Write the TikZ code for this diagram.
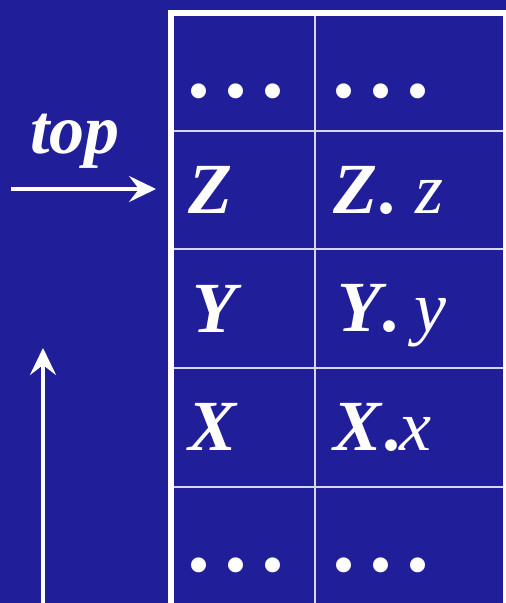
\documentclass[tikz,border=0pt]{standalone}
\usepackage{fontspec}
\setmainfont{Liberation Serif}
\usetikzlibrary{arrows.meta}
\definecolor{bg}{RGB}{33,30,153}
\definecolor{gridc}{RGB}{215,215,235}
\tikzset{
  cell/.style={anchor=base west, inner sep=0pt, text=white, font=\fontsize{72}{80}\selectfont},
  dots/.style={anchor=base, inner sep=0pt, text=white, font=\fontsize{92}{100}\selectfont\bfseries},
  lbl/.style={anchor=base, inner sep=0pt, text=white, font=\fontsize{70}{76}\selectfont\bfseries\itshape},
  thin/.style={draw=gridc, line width=2pt},
  thick/.style={draw=white, line width=6pt},
  arr/.style={draw=white, -{Stealth[length=27pt, width=26pt, inset=10pt]}}
}
\newcommand{\ddd}{.\hspace{14pt}.\hspace{14pt}.}
\begin{document}
\begin{tikzpicture}[x=1pt,y=-1pt]
\fill[bg] (0,0) rectangle (506,603);
\useasboundingbox (0,0) rectangle (506,603);
% grid
\draw[thin] (174,130.5) -- (506,130.5);
\draw[thin] (174,249) -- (506,249);
\draw[thin] (174,368) -- (506,368);
\draw[thin] (174,487) -- (506,487);
\draw[thin] (315,16) -- (315,610);
\draw[thick] (171,610) -- (171,13) -- (506,13) -- (506,610);
% cells
\node[dots] (d1) at (236,97) {\ddd};
\node[dots] (d2) at (381,97) {\ddd};
\node[cell] (z) at (188,213) {\textbf{\textit{Z}}};
\node[cell] (zz) at (333,213) {\textbf{\textit{Z}}\textbf{.}\hspace{20pt}\textit{z}};
\node[cell] (y) at (192,332) {\textbf{\textit{Y}}};
\node[cell] (yy) at (337,331) {\textbf{\textit{Y}}\hspace{-6pt}\textbf{.}\hspace{16pt}\textit{y}};
\node[cell] (x) at (188,450) {\textbf{\textit{X}}};
\node[cell] (xx) at (333,450) {\textbf{\textit{X}}\textbf{.}\hspace{-1pt}\textit{x}};
\node[dots] (d3) at (236,571) {\ddd};
\node[dots] (d4) at (381,571) {\ddd};
% labels and arrows
\node[lbl] (top) at (75,153) {top};
\coordinate (hs) at (11,189);
\coordinate (he) at (156,189);
\draw[arr, line width=3.5pt] (hs) -- (he);
\coordinate (vs) at (43,610);
\coordinate (ve) at (43,348);
\draw[arr, line width=4pt] (vs) -- (ve);
\end{tikzpicture}
\end{document}
